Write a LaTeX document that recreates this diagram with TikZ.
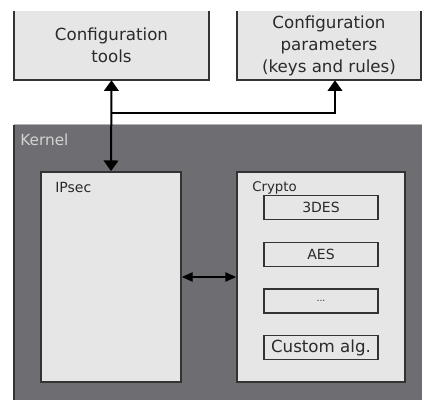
\documentclass[tikz,border=0pt]{standalone}
\usepackage{fontspec}
\setmainfont{DejaVu Sans}
\usetikzlibrary{arrows.meta}
\definecolor{boxgray}{HTML}{E6E6E6}
\definecolor{kernelgray}{HTML}{6E6D72}
\definecolor{edgegray}{HTML}{333333}
\definecolor{textgray}{HTML}{2A2A2A}
\begin{document}
\begin{tikzpicture}[x=0.75pt,y=-0.75pt,
  panel/.style={fill=boxgray,inner sep=0pt,text=textgray,align=center},
  algbox/.style={panel,draw=edgegray,line width=1.4pt,minimum width=85.5pt,minimum height=18pt},
  frame/.style={draw=edgegray,line width=1.3pt},
  link/.style={line width=1.5pt,-{Triangle[width=11pt,length=8pt]}},
  tag/.style={anchor=north west,inner sep=0pt,text=textgray}]
\useasboundingbox (0,0) rectangle (422,400);
\node (kernel) [fill=kernelgray,minimum width=306pt,minimum height=206.25pt,inner sep=0pt] at (218,262.5) {};
\draw [edgegray,line width=1.2pt] (kernel.south west) -- (kernel.north west);
\draw [gray!60,line width=0.8pt] (kernel.north west) -- (kernel.north east);
\node (kernellbl) [tag,text=gray!35,font=\fontsize{11.5}{13}\selectfont] at (20,134) {Kernel};
\node (tools) [panel,minimum width=146.25pt,minimum height=51.75pt,font=\fontsize{12.5}{16.5}\selectfont] at (111.5,45.5) {Configuration\\tools};
\draw [frame] (tools.north west) |- (tools.south east) -- (tools.north east);
\node (params) [panel,minimum width=138pt,minimum height=51.75pt,font=\fontsize{12.5}{16.5}\selectfont] at (329,45.5) {Configuration\\parameters\\(keys and rules)};
\draw [frame] (params.north west) |- (params.south east) -- (params.north east);
\node (ipsec) [panel,draw=edgegray,line width=1.3pt,minimum width=105pt,minimum height=157.5pt] at (111,277) {};
\node (ipseclbl) [tag,font=\fontsize{10.5}{12}\selectfont] at (55,182) {IPsec};
\node (crypto) [panel,draw=edgegray,line width=1.3pt,minimum width=126pt,minimum height=157.5pt] at (321,277) {};
\node (cryptolbl) [tag,font=\fontsize{10}{12}\selectfont] at (252,181) {Crypto};
\node (des3) [algbox,font=\fontsize{10.5}{12}\selectfont] at (321,207.5) {3DES};
\node (aes) [algbox,font=\fontsize{10.5}{12}\selectfont] at (321,254.5) {AES};
\node (more) [algbox,font=\fontsize{7}{8}\selectfont] at (321,301) {...};
\node (custom) [algbox,font=\fontsize{12.5}{14}\selectfont] at (321,347.5) {Custom alg.};
\coordinate (branch) at (111.5,113);
\draw [link,{Triangle[width=11pt,length=8pt]}-{Triangle[width=11pt,length=8pt]}] (tools.south) -- (ipsec.north);
\draw [link,line width=1.2pt] (branch) -| ([xshift=4.5pt]params.south);
\draw [line width=0.8pt,{Triangle[width=7pt,length=8pt]}-{Triangle[width=7pt,length=8pt]}] (ipsec.east) -- (crypto.west);
\end{tikzpicture}
\end{document}
